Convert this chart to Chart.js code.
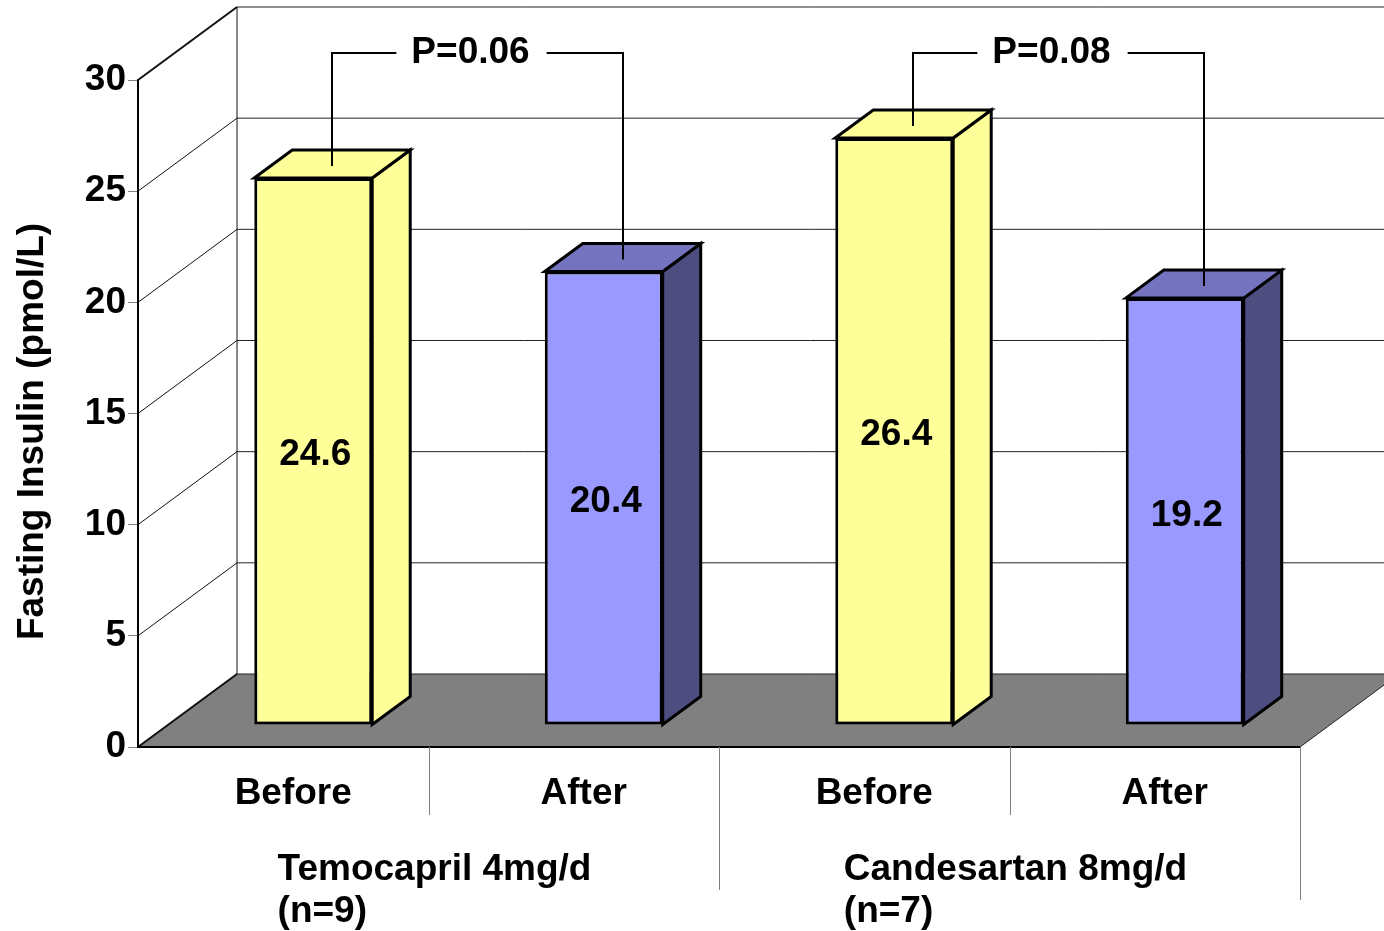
<!DOCTYPE html>
<html>
<head>
<meta charset="utf-8">
<script src="https://cdn.jsdelivr.net/npm/chart.js@4"></script>
<style>
  html, body { margin: 0; padding: 0; background: #fff; }
  canvas { display: block; }
</style>
</head>
<body>
<canvas id="insulinChart" width="1384" height="931"></canvas>
<script>
const categories = ['Before', 'After', 'Before', 'After'];
const insulin = [24.6, 20.4, 26.4, 19.2];
const groupLabels = [['Temocapril 4mg/d', '(n=9)'], ['Candesartan 8mg/d', '(n=7)']];
const pLabels = ['P=0.06', 'P=0.08'];
const yTitle = 'Fasting Insulin (pmol/L)';

const FONT = "bold 37px 'Liberation Sans', Arial, sans-serif";
const frontColors = ['#FFFF99', '#9999FF', '#FFFF99', '#9999FF'];
const sideColors = ['#FFFF99', '#4D4D80', '#FFFF99', '#4D4D80'];
const topColors = ['#FFFF99', '#7373BF', '#FFFF99', '#7373BF'];

// depth of the walls and position of the bars inside that depth
const WALL_DX = 99, WALL_DY = 73;
const BAR_DX = 30, BAR_DY = 22;
const BAR_DEPTH_X = 38, BAR_DEPTH_Y = 28;

function line(ctx, x1, y1, x2, y2) {
  ctx.beginPath();
  ctx.moveTo(x1, y1);
  ctx.lineTo(x2, y2);
  ctx.stroke();
}

const box3d = {
  id: 'box3d',
  beforeDraw(chart) {
    const ctx = chart.ctx;
    const x = chart.scales.x, y = chart.scales.y;
    const a = chart.chartArea;
    const y0 = y.getPixelForValue(0);
    ctx.save();
    ctx.fillStyle = '#fff';
    ctx.fillRect(0, 0, chart.width, chart.height);

    // floor
    ctx.fillStyle = '#808080';
    ctx.beginPath();
    ctx.moveTo(a.left, y0);
    ctx.lineTo(a.right, y0);
    ctx.lineTo(a.right + WALL_DX, y0 - WALL_DY);
    ctx.lineTo(a.left + WALL_DX, y0 - WALL_DY);
    ctx.closePath();
    ctx.fill();
    ctx.strokeStyle = '#222';
    ctx.lineWidth = 1;
    line(ctx, a.right, y0, a.right + WALL_DX, y0 - WALL_DY);

    // back wall + side wall gridlines
    y.ticks.forEach(t => {
      const py = y.getPixelForValue(t.value);
      ctx.strokeStyle = '#111';
      ctx.lineWidth = t.value === y.max ? 2 : 1;
      line(ctx, a.left, py, a.left + WALL_DX, py - WALL_DY);
      ctx.lineWidth = 1;
      ctx.strokeStyle = '#222';
      line(ctx, a.left + WALL_DX, py - WALL_DY, chart.width, py - WALL_DY);
    });
    ctx.lineWidth = 1;
    ctx.strokeStyle = '#111';
    line(ctx, a.left + WALL_DX, y.getPixelForValue(y.max) - WALL_DY, a.left + WALL_DX, y0 - WALL_DY);
    ctx.lineWidth = 2;
    line(ctx, a.left, y0, a.left + WALL_DX, y0 - WALL_DY);

    // front edge of the floor
    ctx.strokeStyle = '#000';
    ctx.lineWidth = 2;
    line(ctx, a.left, y0, a.right, y0);

    // category dividers below the floor
    ctx.strokeStyle = '#808080';
    ctx.lineWidth = 1;
    const step = (a.right - a.left) / categories.length;
    for (let i = 1; i <= categories.length; i++) {
      const px = Math.round(a.left + step * i) + 0.5;
      const len = i % 2 === 0 ? (i === categories.length ? 153 : 143) : 68;
      line(ctx, px, y0, px, y0 + len);
    }

    // category labels
    ctx.fillStyle = '#000';
    ctx.font = FONT;
    ctx.textAlign = 'center';
    ctx.textBaseline = 'alphabetic';
    categories.forEach((c, i) => {
      ctx.fillText(c, x.getPixelForValue(i) + 10, y0 + 57);
    });

    // group labels
    groupLabels.forEach((g, gi) => {
      const cx = (x.getPixelForValue(gi * 2) + x.getPixelForValue(gi * 2 + 1)) / 2 + 6;
      const w = ctx.measureText(g[0]).width;
      ctx.textAlign = 'left';
      ctx.fillText(g[0], cx - w / 2, y0 + 133);
      ctx.fillText(g[1], cx - w / 2, y0 + 175);
    });

    // y title
    ctx.save();
    ctx.translate(33, (a.top + a.bottom) / 2 + 18);
    ctx.rotate(-Math.PI / 2);
    ctx.textAlign = 'center';
    ctx.textBaseline = 'middle';
    ctx.fillText(yTitle, 0, 0);
    ctx.restore();

    ctx.restore();
  },
  beforeDatasetsDraw(chart) {
    chart.ctx.save();
    chart.ctx.translate(BAR_DX, -BAR_DY);
  },
  afterDatasetsDraw(chart) {
    const ctx = chart.ctx;
    ctx.restore();
    const meta = chart.getDatasetMeta(0);
    const boxes = meta.data.map(el => {
      const p = el.getProps(['x', 'y', 'base', 'width'], true);
      return {
        l: p.x - p.width / 2 + BAR_DX,
        r: p.x + p.width / 2 + BAR_DX,
        t: p.y - BAR_DY,
        b: p.base - BAR_DY
      };
    });
    ctx.save();
    ctx.lineWidth = 3;
    ctx.lineJoin = 'miter';
    ctx.strokeStyle = '#000';
    boxes.forEach((bx, i) => {
      ctx.fillStyle = sideColors[i];
      ctx.beginPath();
      ctx.moveTo(bx.r, bx.t);
      ctx.lineTo(bx.r + BAR_DEPTH_X, bx.t - BAR_DEPTH_Y);
      ctx.lineTo(bx.r + BAR_DEPTH_X, bx.b - BAR_DEPTH_Y);
      ctx.lineTo(bx.r, bx.b);
      ctx.closePath();
      ctx.fill();
      ctx.stroke();
      ctx.fillStyle = topColors[i];
      ctx.beginPath();
      ctx.moveTo(bx.l, bx.t);
      ctx.lineTo(bx.l + BAR_DEPTH_X, bx.t - BAR_DEPTH_Y);
      ctx.lineTo(bx.r + BAR_DEPTH_X, bx.t - BAR_DEPTH_Y);
      ctx.lineTo(bx.r, bx.t);
      ctx.closePath();
      ctx.fill();
      ctx.stroke();
    });

    // value labels
    ctx.fillStyle = '#000';
    ctx.font = FONT;
    ctx.textAlign = 'center';
    ctx.textBaseline = 'middle';
    boxes.forEach((bx, i) => {
      ctx.fillText(insulin[i].toFixed(1), (bx.l + bx.r) / 2 + 2, (bx.t + bx.b) / 2 + 4);
    });

    // P-value brackets
    ctx.lineWidth = 2;
    const by = 53;
    pLabels.forEach((lbl, k) => {
      const b1 = boxes[k * 2], b2 = boxes[k * 2 + 1];
      const x1 = Math.round((b1.l + b1.r) / 2 + BAR_DEPTH_X / 2);
      const x2 = Math.round((b2.l + b2.r) / 2 + BAR_DEPTH_X / 2);
      const y1 = b1.t - BAR_DEPTH_Y / 2 + 2;
      const y2 = b2.t - BAR_DEPTH_Y / 2 + 2;
      const tx = (x1 + x2) / 2 - 7;
      const w = ctx.measureText(lbl).width;
      ctx.beginPath();
      ctx.moveTo(x1, y1);
      ctx.lineTo(x1, by);
      ctx.lineTo(tx - w / 2 - 15, by);
      ctx.stroke();
      ctx.beginPath();
      ctx.moveTo(tx + w / 2 + 17, by);
      ctx.lineTo(x2, by);
      ctx.lineTo(x2, y2);
      ctx.stroke();
      ctx.fillText(lbl, tx, by);
    });
    ctx.restore();
  }
};

new Chart(document.getElementById('insulinChart').getContext('2d'), {
  type: 'bar',
  data: {
    labels: categories,
    datasets: [{
      data: insulin,
      backgroundColor: frontColors,
      borderColor: '#000',
      borderWidth: 3,
      borderSkipped: false,
      categoryPercentage: 1,
      barPercentage: 0.406,
      clip: false
    }]
  },
  options: {
    responsive: false,
    animation: false,
    layout: { padding: { top: 80, right: 84, bottom: 184, left: 0 } },
    plugins: { legend: { display: false }, tooltip: { enabled: false } },
    scales: {
      x: { display: false, offset: true },
      y: {
        min: 0,
        max: 30,
        ticks: { stepSize: 5, color: '#000', padding: 2, font: { family: "'Liberation Sans', Arial, sans-serif", size: 37, weight: 'bold' } },
        grid: { drawOnChartArea: false, drawTicks: true, tickLength: 10, color: '#808080' },
        border: { display: true, color: '#000', width: 2 },
        afterFit(scale) { scale.width = 138; }
      }
    }
  },
  plugins: [box3d]
});
</script>
</body>
</html>
